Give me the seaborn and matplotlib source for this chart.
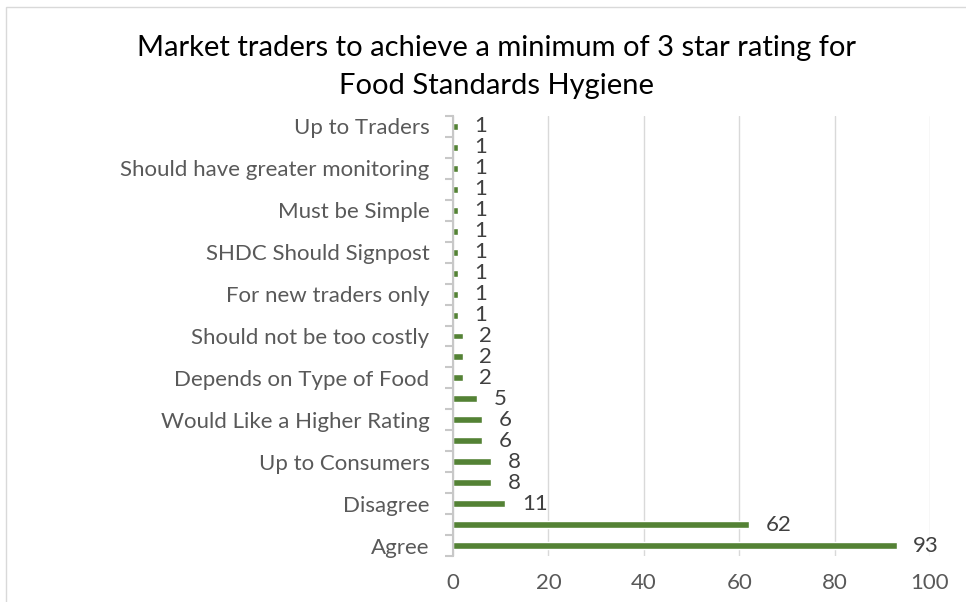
import matplotlib
matplotlib.use("Agg")
import matplotlib.pyplot as plt
import seaborn as sns
import pandas as pd
from matplotlib.patches import Rectangle

sns.set_theme(style="white")
plt.rcParams['font.family'] = ['Lato', 'DejaVu Sans']

# categories from top to bottom; every other one has no visible label in the source
categories = [
    "Up to Traders", "hidden 1", "Should have greater monitoring", "hidden 2",
    "Must be Simple", "hidden 3", "SHDC Should Signpost", "hidden 4",
    "For new traders only", "hidden 5", "Should not be too costly", "hidden 6",
    "Depends on Type of Food", "hidden 7", "Would Like a Higher Rating", "hidden 8",
    "Up to Consumers", "hidden 9", "Disagree", "hidden 10", "Agree",
]
tick_labels = [c if not c.startswith("hidden") else "" for c in categories]
values = [1, 1, 1, 1, 1, 1, 1, 1, 1, 1, 2, 2, 2, 5, 6, 6, 8, 8, 11, 62, 93]
x_ticks = [0, 20, 40, 60, 80, 100]

df = pd.DataFrame({"category": categories, "count": values})

fig = plt.figure(figsize=(9.66, 6.02), dpi=100)
ax = fig.add_axes([453 / 966, 1 - 556 / 602, (930 - 453) / 966, (556 - 116) / 602])

sns.barplot(data=df, y="category", x="count", order=categories,
            color="#548235", saturation=1, width=0.33, ax=ax, zorder=3)

ax.set_xlim(0, 100)
ax.set_ylim(len(categories) - 0.5, -0.5)
ax.set_xticks(x_ticks)
ax.set_xticklabels([str(t) for t in x_ticks], fontsize=16, color="#595959")
ax.set_yticks(range(len(categories)))
ax.set_yticklabels(tick_labels, fontsize=16, color="#595959")
ax.set_yticks([i - 0.5 for i in range(len(categories) + 1)], minor=True)
ax.tick_params(axis="y", which="major", length=0, pad=17)
ax.tick_params(axis="y", which="minor", left=True, length=6, color="#c8c8c8",
               width=1.5, direction="out")
ax.tick_params(axis="x", length=0, pad=12)
ax.set_xlabel("")
ax.set_ylabel("")

ax.grid(True, axis="x", color="#d9d9d9", linewidth=1, zorder=0)
for side in ["top", "right", "bottom"]:
    ax.spines[side].set_visible(False)
ax.spines["left"].set_color("#c8c8c8")
ax.spines["left"].set_linewidth(1.5)
ax.spines["left"].set_zorder(4)

for container in ax.containers:
    ax.bar_label(container, padding=12, fontsize=16, color="#404040")

fig.text(496 / 966, 1 - 67 / 602,
         "Market traders to achieve a minimum of 3 star rating for\nFood Standards Hygiene",
         ha="center", va="center", fontsize=21, color="#000000", linespacing=1.55)

# chart frame, cropped on the right and bottom
fig.patches.append(Rectangle((6 / 966, -0.1), 1.2, 1 - 7 / 602 + 0.1,
                             transform=fig.transFigure, fill=False,
                             edgecolor="#d9d9d9", linewidth=1))

fig.savefig("out.png", dpi=100)
